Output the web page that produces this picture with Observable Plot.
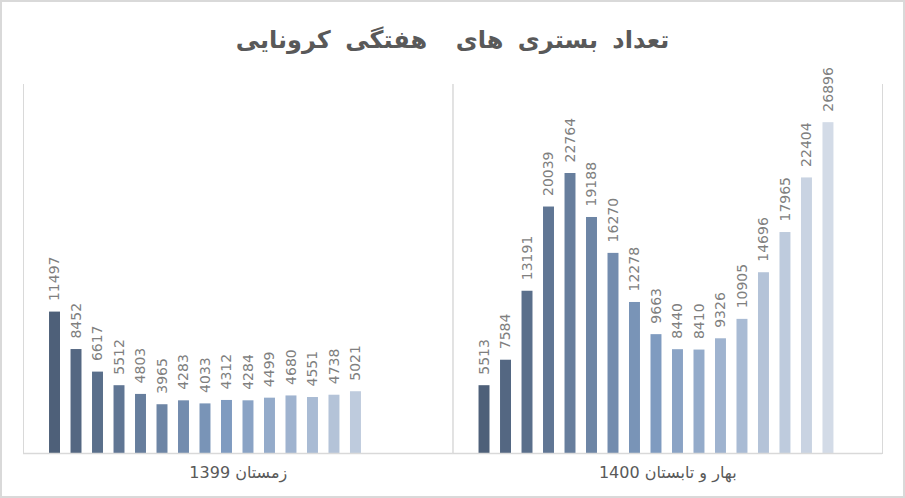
<!DOCTYPE html>
<html>
<head>
<meta charset="utf-8">
<script src="https://cdn.jsdelivr.net/npm/d3@7"></script>
<script src="https://cdn.jsdelivr.net/npm/@observablehq/plot@0.6"></script>
<style>
  body { margin: 0; background: #fff; }
  #wrap { position: relative; width: 905px; height: 498px; overflow: hidden; background: #fff; }
  #border { position: absolute; left: 0; top: 0; width: 905px; height: 498px; box-sizing: border-box; border: 2px solid #d9d9d9; pointer-events: none; z-index: 2; }
  #title { position: absolute; left: 0; top: 23px; width: 905px; height: 34px; line-height: 34px; text-align: center;
           font-family: "DejaVu Sans", sans-serif; font-weight: bold; font-size: 24px; word-spacing: 6px; color: #595959; direction: rtl; white-space: pre; }
  #chart { position: absolute; left: 0; top: 70px; }
</style>
</head>
<body>
<div id="wrap">
  <div id="title"></div>
  <div id="chart"></div>
  <div id="border"></div>
</div>
<script>
const titleText = "تعداد بستری های  هفتگی کرونایی";
const groups = ["زمستان 1399", "بهار و تابستان 1400"];
const winterValues = [11497, 8452, 6617, 5512, 4803, 3965, 4283, 4033, 4312, 4284, 4499, 4680, 4551, 4738, 5021];
const summerValues = [5513, 7584, 13191, 20039, 22764, 19188, 16270, 12278, 9663, 8440, 8410, 9326, 10905, 14696, 17965, 22404, 26896];

document.getElementById("title").textContent = titleText;

const rows = [
  ...winterValues.map((v, i) => ({group: groups[0], week: i + 1, value: v})),
  ...summerValues.map((v, i) => ({group: groups[1], week: i + 1, value: v}))
];
const weeks = summerValues.map((_, i) => i + 1);

const plot = Plot.plot({
  width: 905,
  height: 428,
  marginTop: 14,
  marginBottom: 45,
  marginLeft: 23,
  marginRight: 23,
  style: {fontFamily: "DejaVu Sans, sans-serif", background: "transparent", overflow: "visible"},
  fx: {domain: groups, padding: 0, axis: null, round: false},
  x: {domain: weeks, paddingInner: 0.49, paddingOuter: 1.735, align: 0.349, axis: null, round: false},
  y: {domain: [0, 30000], axis: null},
  color: {type: "linear", domain: [1, 9, 17], range: ["#4e6079", "#7f9bc0", "#d3dbe7"], interpolate: "rgb"},
  marks: [
    Plot.frame({anchor: "left", stroke: "#d9d9d9"}),
    Plot.frame({anchor: "right", stroke: "#d9d9d9"}),
    Plot.barY(rows, {fx: "group", x: "week", y: "value", fill: "week"}),
    Plot.ruleY([0], {stroke: "#d9d9d9", strokeWidth: 1.5}),
    Plot.text(rows, {fx: "group", x: "week", y: "value", text: d => String(d.value),
      rotate: -90, textAnchor: "start", lineAnchor: "middle", dy: -11,
      fill: "#7f7f7f", fontSize: 14}),
    Plot.text(groups, {fx: d => d, text: d => d, frameAnchor: "bottom", dy: 24,
      fill: "#595959", fontSize: 16, ariaLabel: "group-label"})
  ]
});
d3.select(plot).selectAll('g[aria-label="group-label"] text')
  .style("letter-spacing", "1.5px").style("word-spacing", "3px");
document.getElementById("chart").appendChild(plot);
</script>
</body>
</html>
